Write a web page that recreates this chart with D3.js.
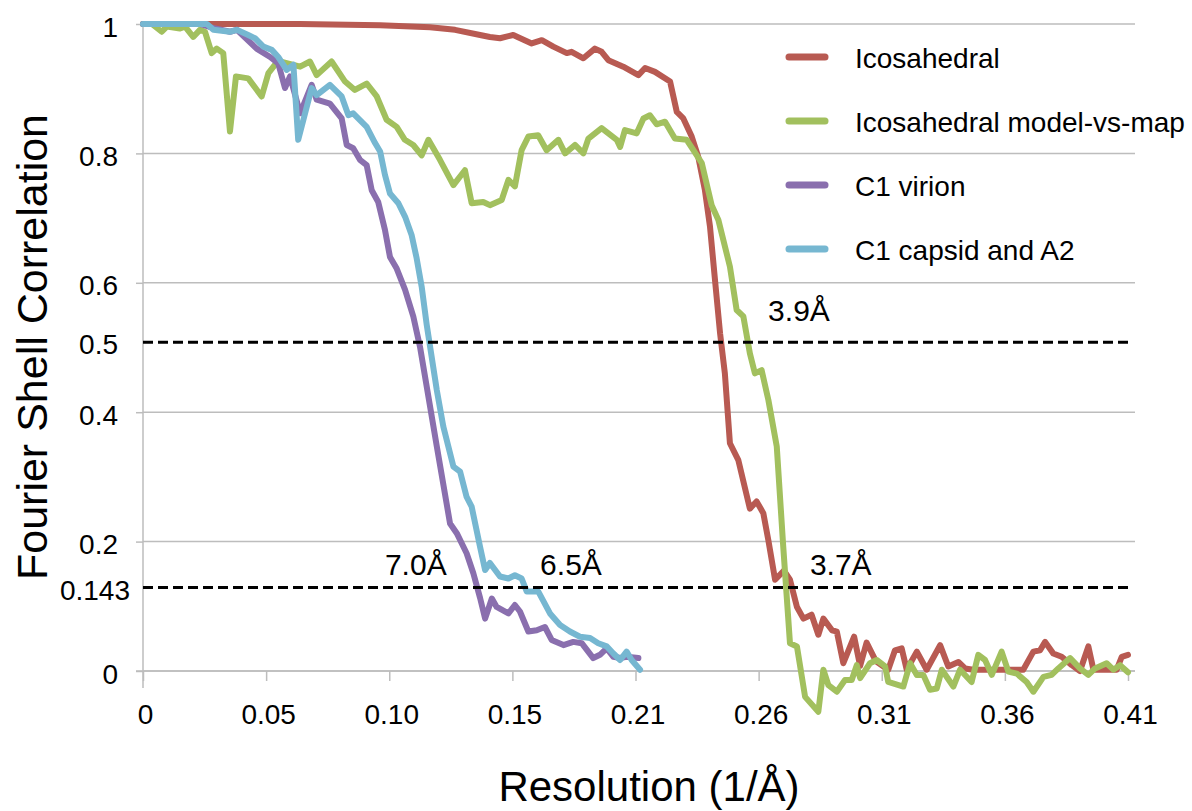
<!DOCTYPE html>
<html>
<head>
<meta charset="utf-8">
<script src="https://cdn.jsdelivr.net/npm/d3@7"></script>
<style>
  html, body { margin: 0; padding: 0; background: #fff; }
  svg { display: block; font-family: "Liberation Sans", Arial, sans-serif; }
</style>
</head>
<body>
<svg id="chart" width="1192" height="811"></svg>
<script>
// ---------------- data ----------------
const seriesNames = ["Icosahedral", "Icosahedral model-vs-map", "C1 virion", "C1 capsid and A2"];

const icoRes = [0, 0.0654, 0.0987, 0.1195, 0.1299, 0.1403, 0.1444, 0.1486, 0.1541, 0.1618, 0.1660, 0.1708, 0.1764, 0.1784, 0.1833, 0.1881, 0.1909, 0.1937, 0.1999, 0.2062, 0.2090, 0.2131, 0.2194, 0.2222, 0.2249, 0.2284, 0.2311, 0.2339, 0.2360, 0.2381, 0.2402, 0.2422, 0.2443, 0.2478, 0.2526, 0.2554, 0.2582, 0.2603, 0.2631, 0.2668, 0.2693, 0.2722, 0.2749, 0.2783, 0.2811, 0.2832, 0.2868, 0.2888, 0.2915, 0.2960, 0.2985, 0.3012, 0.3051, 0.3102, 0.3130, 0.3158, 0.3179, 0.3221, 0.3262, 0.3318, 0.3352, 0.3394, 0.3422, 0.3456, 0.3664, 0.3706, 0.3734, 0.3755, 0.3789, 0.3824, 0.3866, 0.3900, 0.3935, 0.3956, 0.4053, 0.4074, 0.41];
const icoFSC = [1.0, 1.0, 0.998, 0.995, 0.991, 0.983, 0.980, 0.978, 0.983, 0.970, 0.975, 0.965, 0.955, 0.957, 0.947, 0.962, 0.957, 0.944, 0.934, 0.921, 0.932, 0.926, 0.911, 0.864, 0.854, 0.826, 0.795, 0.743, 0.687, 0.604, 0.522, 0.460, 0.352, 0.326, 0.251, 0.262, 0.244, 0.202, 0.141, 0.155, 0.141, 0.099, 0.081, 0.087, 0.056, 0.081, 0.063, 0.061, 0.012, 0.053, 0.008, 0.044, 0.015, 0.002, 0.032, 0.035, 0.002, 0.030, 0.002, 0.040, 0.007, 0.014, 0.004, 0.002, 0.002, 0.030, 0.032, 0.045, 0.027, 0.022, 0.009, 0.0, 0.038, 0.002, 0.002, 0.022, 0.025];

const modelRes = [0, 0.0037, 0.0078, 0.0099, 0.0154, 0.0175, 0.0209, 0.0237, 0.0258, 0.0286, 0.0307, 0.0334, 0.0362, 0.0387, 0.0438, 0.0494, 0.0522, 0.0562, 0.0654, 0.0695, 0.0723, 0.0785, 0.0841, 0.0882, 0.0931, 0.0973, 0.1014, 0.1056, 0.1090, 0.1125, 0.1160, 0.1188, 0.1236, 0.1292, 0.1340, 0.1368, 0.1416, 0.1444, 0.1493, 0.1521, 0.1548, 0.1576, 0.1604, 0.1645, 0.1680, 0.1729, 0.1757, 0.1798, 0.1833, 0.1854, 0.1909, 0.1972, 0.1986, 0.2006, 0.2055, 0.2083, 0.2110, 0.2138, 0.2173, 0.2214, 0.2263, 0.2291, 0.2326, 0.2367, 0.2395, 0.2443, 0.2471, 0.2499, 0.2526, 0.2547, 0.2575, 0.2603, 0.2638, 0.2665, 0.2693, 0.2722, 0.2756, 0.2811, 0.2832, 0.2853, 0.2888, 0.2922, 0.2950, 0.2971, 0.2985, 0.3026, 0.3054, 0.3089, 0.3102, 0.3165, 0.3193, 0.3221, 0.3248, 0.3276, 0.3304, 0.3325, 0.3373, 0.3401, 0.3449, 0.3477, 0.3505, 0.3533, 0.3574, 0.3602, 0.3637, 0.3678, 0.3706, 0.3748, 0.3782, 0.3810, 0.3859, 0.3900, 0.3935, 0.3963, 0.4011, 0.4039, 0.4067, 0.41];
const modelFSC = [1.0, 1.0, 0.988, 0.996, 0.993, 0.996, 0.980, 0.991, 0.988, 0.955, 0.962, 0.955, 0.834, 0.919, 0.916, 0.888, 0.924, 0.943, 0.934, 0.942, 0.921, 0.942, 0.911, 0.898, 0.908, 0.888, 0.852, 0.841, 0.821, 0.813, 0.797, 0.821, 0.790, 0.751, 0.774, 0.723, 0.725, 0.720, 0.728, 0.759, 0.749, 0.805, 0.826, 0.828, 0.805, 0.821, 0.800, 0.813, 0.800, 0.823, 0.839, 0.821, 0.810, 0.836, 0.831, 0.854, 0.859, 0.845, 0.849, 0.823, 0.821, 0.805, 0.785, 0.720, 0.697, 0.625, 0.558, 0.548, 0.491, 0.460, 0.465, 0.419, 0.347, 0.192, 0.043, 0.038, -0.040, -0.063, 0.002, -0.022, -0.032, -0.014, -0.014, 0.009, -0.011, 0.012, 0.017, 0.007, -0.017, -0.024, 0.012, -0.006, -0.006, -0.029, -0.027, 0.002, -0.024, 0.002, -0.017, 0.025, 0.017, -0.006, 0.030, -0.001, -0.004, -0.017, -0.032, -0.009, -0.006, 0.004, 0.020, 0.004, -0.006, 0.004, 0.012, 0.002, 0.009, -0.002];

const virionRes = [0, 0.0237, 0.0291, 0.0362, 0.0391, 0.0473, 0.0529, 0.0563, 0.0591, 0.0612, 0.0654, 0.0702, 0.0723, 0.0778, 0.0827, 0.0848, 0.0875, 0.0903, 0.0931, 0.0952, 0.0979, 0.1007, 0.1028, 0.1056, 0.1091, 0.1125, 0.1153, 0.1223, 0.1278, 0.1306, 0.1347, 0.1375, 0.1403, 0.1424, 0.1452, 0.1472, 0.1521, 0.1548, 0.1569, 0.1604, 0.1639, 0.1673, 0.1701, 0.1750, 0.1791, 0.1826, 0.1874, 0.1902, 0.1930, 0.1958, 0.1986, 0.2013, 0.2062];
const virionFSC = [1.0, 1.0, 0.994, 0.988, 0.991, 0.962, 0.949, 0.939, 0.901, 0.919, 0.862, 0.906, 0.883, 0.877, 0.854, 0.813, 0.808, 0.790, 0.782, 0.743, 0.725, 0.682, 0.640, 0.622, 0.589, 0.548, 0.501, 0.347, 0.228, 0.213, 0.182, 0.151, 0.113, 0.081, 0.112, 0.099, 0.089, 0.102, 0.092, 0.061, 0.063, 0.068, 0.048, 0.040, 0.045, 0.043, 0.020, 0.025, 0.035, 0.022, 0.020, 0.022, 0.020];

const capsidRes = [0, 0.0266, 0.0293, 0.0362, 0.0390, 0.0438, 0.0466, 0.0501, 0.0536, 0.0563, 0.0598, 0.0626, 0.0646, 0.0702, 0.0723, 0.0778, 0.0827, 0.0855, 0.0875, 0.0931, 0.0966, 0.0987, 0.1007, 0.1028, 0.1063, 0.1091, 0.1118, 0.1139, 0.1160, 0.1181, 0.1223, 0.1250, 0.1292, 0.1320, 0.1347, 0.1368, 0.1403, 0.1424, 0.1444, 0.1486, 0.1521, 0.1548, 0.1576, 0.1597, 0.1645, 0.1694, 0.1736, 0.1777, 0.1819, 0.1861, 0.1895, 0.1930, 0.1958, 0.1986, 0.2013, 0.2034, 0.2069];
const capsidFSC = [1.0, 1.0, 0.991, 0.988, 0.991, 0.983, 0.978, 0.965, 0.960, 0.949, 0.929, 0.937, 0.821, 0.901, 0.890, 0.906, 0.888, 0.859, 0.862, 0.841, 0.816, 0.803, 0.767, 0.738, 0.723, 0.702, 0.674, 0.638, 0.594, 0.535, 0.434, 0.378, 0.316, 0.308, 0.269, 0.254, 0.192, 0.156, 0.167, 0.146, 0.143, 0.148, 0.143, 0.123, 0.123, 0.089, 0.071, 0.061, 0.053, 0.051, 0.043, 0.038, 0.027, 0.017, 0.030, 0.017, 0.002];

const xMax = 0.41;
const xTickLabels = ["0", "0.05", "0.10", "0.15", "0.21", "0.26", "0.31", "0.36", "0.41"];
const yTickValues = [0, 0.2, 0.4, 0.6, 0.8, 1];
const yTickLabels = ["0", "0.2", "0.4", "0.6", "0.8", "1"];
// threshold lines: labelled values, and the level at which each dashed line is drawn in the picture
const thresholdLabels = ["0.5", "0.143"];
const thresholdDrawnFSC = [0.508, 0.129];
const annotationTexts = ["3.9Å", "7.0Å", "6.5Å", "3.7Å"];
const annotationRes = [0.2602, 0.1007, 0.1653, 0.2776];
const annotationFSC = [0.541, 0.148, 0.148, 0.148];

// ---------------- layout & style ----------------
const colors = ["#B85A52", "#A2C05E", "#8A6FAE", "#76B7D1"];
const gridColor = "#BDBDBD";
const svg = d3.select("#chart");
svg.append("rect").attr("width", 1192).attr("height", 811).attr("fill", "#fff");

const x = d3.scaleLinear().domain([0, xMax]).range([143, 1128]);
const y = d3.scaleLinear().domain([0, 1]).range([671, 24]);

const gridLeft = 136, gridRight = 1135;

// gridlines
svg.append("g").selectAll("line").data(yTickValues).join("line")
  .attr("x1", x(0)).attr("x2", gridRight)
  .attr("y1", d => y(d)).attr("y2", d => y(d))
  .attr("stroke", gridColor).attr("stroke-width", 1.5);

// y axis
const xTickValues = xTickLabels.map((_, i) => i * xMax / 8);
const yAxis = d3.axisLeft(y).tickValues(yTickValues)
  .tickFormat((d, i) => yTickLabels[i]).tickSize(x(0) - gridLeft).tickPadding(18);
const gy = svg.append("g").attr("transform", `translate(${x(0)},0)`).call(yAxis);
gy.select(".domain").remove();
gy.selectAll(".tick line").attr("stroke", gridColor).attr("stroke-width", 1.5);
gy.selectAll(".tick text").attr("dy", null).attr("y", 12)
  .attr("font-size", 28).attr("fill", "#000")
  .attr("font-family", "Liberation Sans, Arial, sans-serif");

// vertical axis line
svg.append("line").attr("x1", x(0)).attr("x2", x(0)).attr("y1", y(1)).attr("y2", 688)
  .attr("stroke", gridColor).attr("stroke-width", 1.5);

// x axis
const xAxis = d3.axisBottom(x).tickValues(xTickValues)
  .tickFormat((d, i) => xTickLabels[i]).tickSize(10).tickPadding(10);
const gx = svg.append("g").attr("transform", `translate(0,${y(0)})`).call(xAxis);
gx.select(".domain").remove();
gx.selectAll(".tick line").attr("stroke", gridColor).attr("stroke-width", 1.5);
gx.selectAll(".tick text").attr("dy", null).attr("y", 53).attr("dx", 2)
  .attr("font-size", 28).attr("fill", "#000")
  .attr("font-family", "Liberation Sans, Arial, sans-serif");
svg.append("line").attr("x1", gridLeft).attr("x2", gridRight)
  .attr("y1", y(0)).attr("y2", y(0)).attr("stroke", gridColor).attr("stroke-width", 1.5);

// series
const seriesData = [
  d3.zip(icoRes, icoFSC),
  d3.zip(modelRes, modelFSC),
  d3.zip(virionRes, virionFSC),
  d3.zip(capsidRes, capsidFSC)
];
const line = d3.line().x(d => x(d[0])).y(d => y(d[1]));
svg.append("g").selectAll("path").data(seriesData).join("path")
  .attr("d", line)
  .attr("fill", "none")
  .attr("stroke", (d, i) => colors[i])
  .attr("stroke-width", 6)
  .attr("stroke-linejoin", "round")
  .attr("stroke-linecap", "round");

// threshold dashed lines
svg.append("g").selectAll("line").data(thresholdDrawnFSC).join("line")
  .attr("x1", x(0)).attr("x2", x(xMax))
  .attr("y1", d => y(d)).attr("y2", d => y(d))
  .attr("stroke", "#000").attr("stroke-width", 3)
  .attr("stroke-dasharray", "10,5");

// threshold labels
svg.append("g").selectAll("text").data(thresholdDrawnFSC).join("text")
  .attr("x", (d, i) => i === 0 ? 118 : 130)
  .attr("y", d => y(d) + 12)
  .attr("text-anchor", "end")
  .attr("font-size", 28)
  .text((d, i) => thresholdLabels[i]);

// annotations
svg.append("g").selectAll("text").data(annotationTexts).join("text")
  .attr("x", (d, i) => x(annotationRes[i]))
  .attr("y", (d, i) => y(annotationFSC[i]))
  .attr("font-size", 30)
  .text(d => d);

// legend
const legend = svg.append("g");
seriesNames.forEach((name, i) => {
  const ly = 57 + i * 64;
  legend.append("line").attr("x1", 789).attr("x2", 825).attr("y1", ly).attr("y2", ly)
    .attr("stroke", colors[i]).attr("stroke-width", 7).attr("stroke-linecap", "round");
  legend.append("text").attr("x", 855).attr("y", ly + 11)
    .attr("font-size", 28).text(name);
});

// axis titles
svg.append("text").attr("x", 649).attr("y", 801).attr("text-anchor", "middle")
  .attr("font-size", 42).text("Resolution (1/Å)");
svg.append("text").attr("transform", "translate(47,347) rotate(-90)")
  .attr("text-anchor", "middle").attr("font-size", 43).text("Fourier Shell Correlation");
</script>
</body>
</html>
